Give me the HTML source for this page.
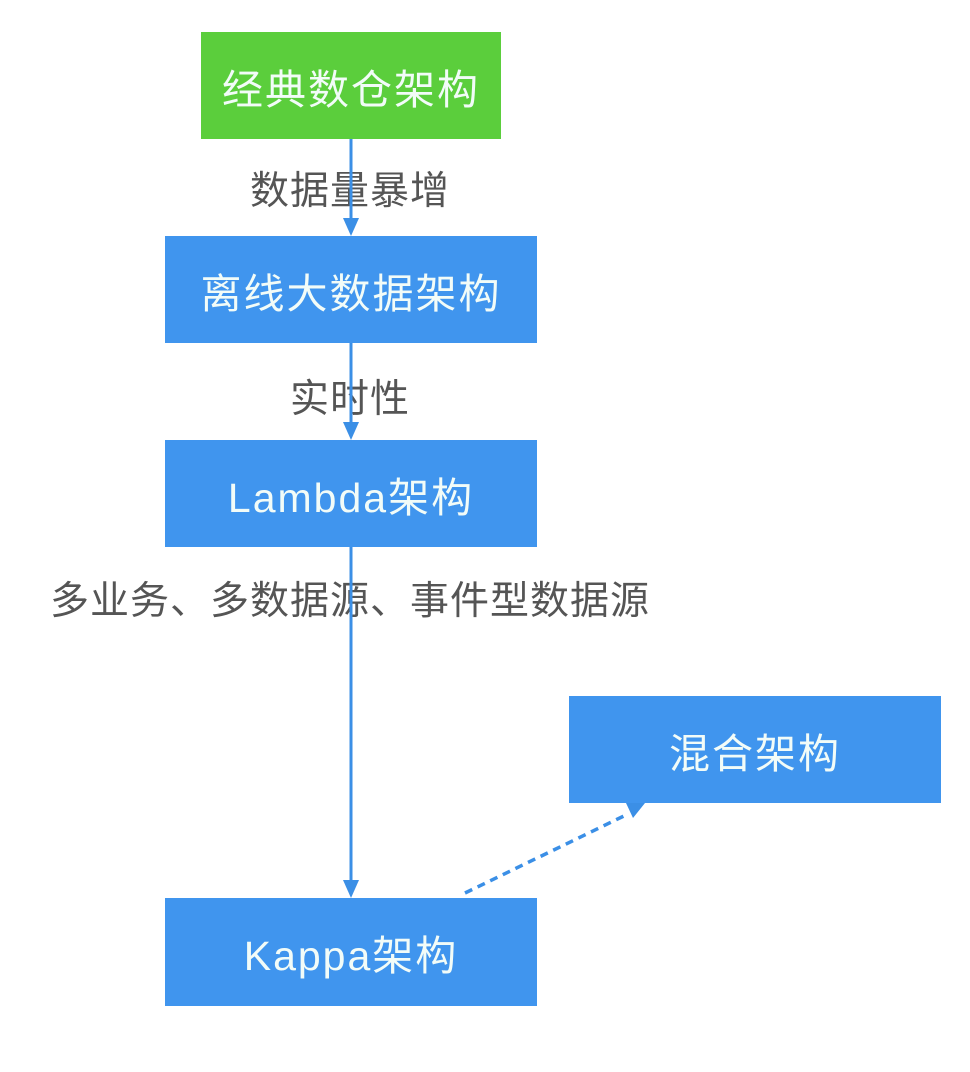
<!DOCTYPE html>
<html>
<head>
<meta charset="utf-8">
<style>
  html, body { margin:0; padding:0; background:#ffffff; }
  body { width:970px; height:1072px; position:relative; overflow:hidden;
         font-family:"Liberation Sans","Noto Sans CJK SC",sans-serif; }
  .box { position:absolute; display:flex; align-items:center; justify-content:center;
         color:#f2fcf8; font-size:41px; letter-spacing:2px; white-space:nowrap; z-index:3; }
  .green { background:#5bce3c; }
  .blue { background:#4095ee; }
  .lbl { position:absolute; left:0; width:700px; text-align:center; color:#555555;
         font-size:39px; letter-spacing:1px; white-space:nowrap; line-height:44px; z-index:1; }
  svg.lines { position:absolute; left:0; top:0; z-index:2; }
</style>
</head>
<body>
  <div class="box green" style="left:201px;top:32px;width:300px;height:107px;">经典数仓架构</div>
  <div class="box blue" style="left:165px;top:236px;width:372px;height:107px;">离线大数据架构</div>
  <div class="box blue" style="left:165px;top:440px;width:372px;height:107px;">Lambda架构</div>
  <div class="box blue" style="left:165px;top:898px;width:372px;height:108px;">Kappa架构</div>
  <div class="box blue" style="left:569px;top:696px;width:372px;height:107px;">混合架构</div>

  <div class="lbl" style="top:170px;">数据量暴增</div>
  <div class="lbl" style="top:378px;">实时性</div>
  <div class="lbl" style="top:580px;">多业务、多数据源、事件型数据源</div>

  <svg class="lines" width="970" height="1072" viewBox="0 0 970 1072">
    <g stroke="#3b8fe6" stroke-width="3" fill="none">
      <line x1="351" y1="139" x2="351" y2="220"/>
      <line x1="351" y1="343" x2="351" y2="424"/>
      <line x1="351" y1="547" x2="351" y2="882"/>
      <line x1="465" y1="893" x2="628" y2="814" stroke-dasharray="8,6" stroke-width="3.5"/>
    </g>
    <g fill="#3b8fe6">
      <polygon points="343,218 359,218 351,236"/>
      <polygon points="343,422 359,422 351,440"/>
      <polygon points="343,880 359,880 351,898"/>
      <polygon points="626,803 633,818 645,803"/>
    </g>
  </svg>
</body>
</html>
